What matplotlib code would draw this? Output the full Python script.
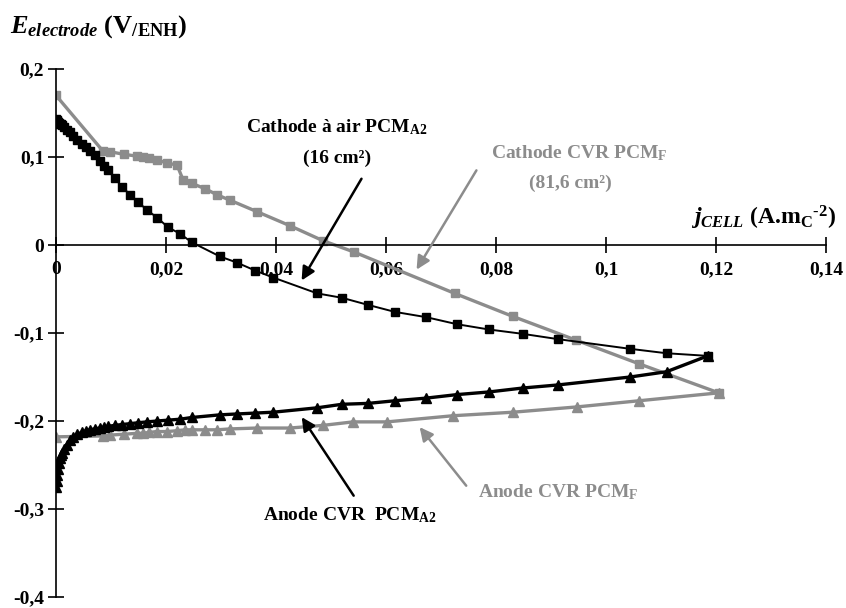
import matplotlib
matplotlib.use('Agg')
import matplotlib.pyplot as plt
import matplotlib as mpl

params = {
    'font.family': 'serif',
    'font.serif': ['Liberation Serif', 'DejaVu Serif'],
    'font.weight': 'bold',
    'mathtext.fontset': 'custom',
    'mathtext.rm': 'Liberation Serif:bold',
    'mathtext.it': 'Liberation Serif:italic:bold',
    'mathtext.bf': 'Liberation Serif:bold',
    'font.size': 14,
}
mpl.rcParams.update(params)

GREY = '#8c8c8c'

# current density (A.m-2) -- electrodes PCM_A2 (16 cm2)
j_A2 = [0, 0.0001, 0.0002, 0.0003, 0.0005, 0.0007, 0.0009, 0.0011, 0.0015, 0.002,
        0.0025, 0.0031, 0.0039, 0.0047, 0.0055, 0.0062, 0.007, 0.008, 0.0088, 0.0095,
        0.0107, 0.012, 0.0135, 0.0149, 0.0165, 0.0184, 0.0204, 0.0225, 0.0247, 0.0298,
        0.0329, 0.0362, 0.0395, 0.0475, 0.052, 0.0567, 0.0616, 0.0673, 0.0729, 0.0787,
        0.0849, 0.0913, 0.1044, 0.111, 0.1185]
E_cath_A2 = [0.143, 0.142, 0.141, 0.140, 0.139, 0.138, 0.137, 0.136, 0.134, 0.131,
             0.128, 0.124, 0.119, 0.115, 0.111, 0.107, 0.102, 0.095, 0.090, 0.085,
             0.076, 0.066, 0.057, 0.049, 0.040, 0.031, 0.020, 0.013, 0.003, -0.013,
             -0.020, -0.029, -0.037, -0.055, -0.060, -0.068, -0.076, -0.082, -0.090, -0.096,
             -0.101, -0.107, -0.118, -0.123, -0.126]
E_anod_A2 = [-0.275, -0.268, -0.261, -0.254, -0.248, -0.242, -0.239, -0.236, -0.232, -0.227,
             -0.222, -0.218, -0.215, -0.213, -0.211, -0.210, -0.209, -0.208, -0.207, -0.206,
             -0.205, -0.204, -0.203, -0.202, -0.201, -0.200, -0.199, -0.198, -0.196, -0.193,
             -0.192, -0.191, -0.190, -0.185, -0.181, -0.180, -0.177, -0.174, -0.170, -0.167,
             -0.1625, -0.159, -0.150, -0.144, -0.126]

# electrodes PCM_F (81,6 cm2)
j_cath_F = [0, 0.0085, 0.0098, 0.0124, 0.0147, 0.0158, 0.0169, 0.0183, 0.0202, 0.022,
            0.0231, 0.0247, 0.0271, 0.0293, 0.0316, 0.0365, 0.0425, 0.0485, 0.0542, 0.0725,
            0.083, 0.0945, 0.106, 0.1205]
E_cath_F = [0.170, 0.107, 0.106, 0.103, 0.101, 0.100, 0.099, 0.097, 0.093, 0.091,
            0.074, 0.070, 0.064, 0.057, 0.051, 0.038, 0.022, 0.005, -0.008, -0.055,
            -0.081, -0.108, -0.135, -0.168]
j_anod_F = [0, 0.0085, 0.0098, 0.0124, 0.0147, 0.0158, 0.0169, 0.0183, 0.0202, 0.022,
            0.0235, 0.0247, 0.0271, 0.0293, 0.0316, 0.0365, 0.0425, 0.0485, 0.054, 0.0602,
            0.0722, 0.0831, 0.0947, 0.106, 0.1205]
E_anod_F = [-0.218, -0.217, -0.216, -0.215, -0.214, -0.214, -0.213, -0.212, -0.212, -0.211,
            -0.210, -0.210, -0.210, -0.210, -0.209, -0.208, -0.208, -0.205, -0.201, -0.201,
            -0.194, -0.190, -0.184, -0.177, -0.168]

xticks = [0, 0.02, 0.04, 0.06, 0.08, 0.1, 0.12, 0.14]
xtick_labels = ['0', '0,02', '0,04', '0,06', '0,08', '0,1', '0,12', '0,14']
yticks = [-0.4, -0.3, -0.2, -0.1, 0, 0.1, 0.2]
ytick_labels = ['-0,4', '-0,3', '-0,2', '-0,1', '0', '0,1', '0,2']

fig = plt.figure(figsize=(8.46, 6.08), dpi=100)
ax = fig.add_axes([56/846, 11/608, 770/846, 528/608])

ax.plot(j_cath_F, E_cath_F, color=GREY, lw=2.4, marker='s', ms=6, zorder=2)
ax.plot(j_anod_F, E_anod_F, color=GREY, lw=2.4, marker='^', ms=6.5, zorder=2)
ax.plot(j_A2, E_cath_A2, color='black', lw=1.4, marker='s', ms=6.3, zorder=3)
ax.plot(j_A2, E_anod_A2, color='black', lw=2.4, marker='^', ms=6.5, zorder=3)

ax.set_xlim(0, 0.14)
ax.set_ylim(-0.4, 0.2)
ax.spines['top'].set_visible(False)
ax.spines['right'].set_visible(False)
ax.spines['bottom'].set_position(('data', 0))
ax.spines['left'].set_linewidth(1.2)
ax.spines['bottom'].set_linewidth(1.2)
ax.set_xticks(xticks)
ax.set_xticklabels(xtick_labels)
ax.set_yticks(yticks)
ax.set_yticklabels(ytick_labels)
ax.tick_params(direction='inout', length=11, width=1.2, labelsize=14)
ax.tick_params(axis='x', pad=6)
ax.tick_params(axis='y', pad=3)

# axis titles
fig.text(10/846, 1-27/608, r'$E_{electrode}\ (\mathrm{V}_{\mathrm{/ENH}})$',
         fontsize=19, ha='left', va='center')
ax.text(0.1287, 0.031, r'$j_{CELL}$ (A.m$_{\mathrm{C}}$$^{\text{-2}}$)',
        fontsize=17, ha='center', va='center')

# annotations
ax.text(0.0511, 0.134, r'Cathode à air PCM$_{\mathrm{A2}}$', ha='center', va='center', color='black')
ax.text(0.0511, 0.099, '(16 cm²)', ha='center', va='center', color='black')
ax.annotate('', xy=(0.0444, -0.043), xytext=(0.0558, 0.078),
            arrowprops=dict(arrowstyle='-|>', color='black', lw=1.8, mutation_scale=20))

ax.text(0.0951, 0.1045, r'Cathode CVR PCM$_{\mathrm{F}}$', ha='center', va='center', color=GREY)
ax.text(0.0935, 0.0705, '(81,6 cm²)', ha='center', va='center', color=GREY)
ax.annotate('', xy=(0.0653, -0.0307), xytext=(0.0767, 0.0875),
            arrowprops=dict(arrowstyle='-|>', color=GREY, lw=1.8, mutation_scale=20))

ax.text(0.0535, -0.307, r'Anode CVR  PCM$_{\mathrm{A2}}$', ha='center', va='center', color='black')
ax.annotate('', xy=(0.0444, -0.193), xytext=(0.0544, -0.2875),
            arrowprops=dict(arrowstyle='-|>', color='black', lw=1.8, mutation_scale=20))

ax.text(0.0913, -0.281, r'Anode CVR PCM$_{\mathrm{F}}$', ha='center', va='center', color=GREY)
ax.annotate('', xy=(0.0658, -0.2045), xytext=(0.0749, -0.276),
            arrowprops=dict(arrowstyle='-|>', color=GREY, lw=1.8, mutation_scale=20))

fig.savefig('out.png', dpi=100)
